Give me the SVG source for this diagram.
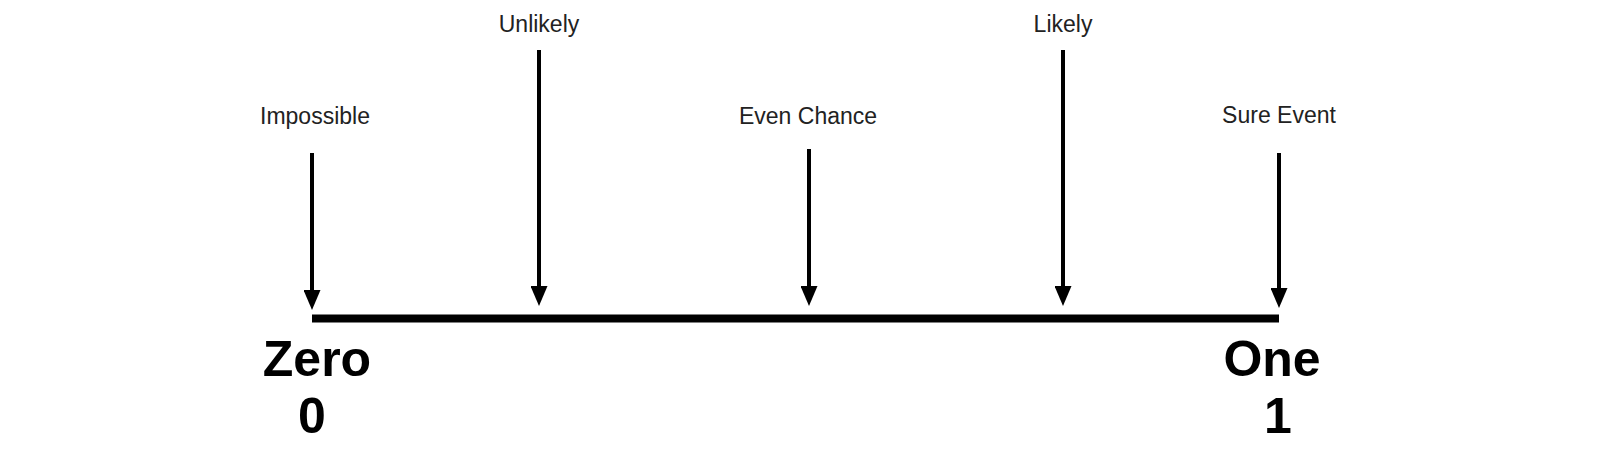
<svg xmlns="http://www.w3.org/2000/svg" width="1600" height="450" viewBox="0 0 1600 450">
<style>
.lbl{font-family:"Liberation Sans",Arial,sans-serif;font-size:23px;fill:#222;text-anchor:middle}
.big{font-family:"Liberation Sans",Arial,sans-serif;font-size:50px;font-weight:bold;fill:#000;text-anchor:middle}
.shaft{stroke:#000;stroke-width:4;fill:none}
</style>
<defs>
<marker id="ah" markerUnits="userSpaceOnUse" markerWidth="20" markerHeight="17" refX="8" refY="8.5" orient="auto">
<path d="M0,0 L20,8.5 L0,17 Z" fill="#000"/>
</marker>
</defs>
<rect width="1600" height="450" fill="#fff"/>
<g id="axis">
<line x1="312" y1="318.5" x2="1279" y2="318.5" stroke="#000" stroke-width="8"/>
</g>
<g id="connectors">
<line class="shaft" x1="312" y1="153" x2="312" y2="298" marker-end="url(#ah)"/>
<line class="shaft" x1="539" y1="50" x2="539" y2="294" marker-end="url(#ah)"/>
<line class="shaft" x1="809" y1="149" x2="809" y2="294" marker-end="url(#ah)"/>
<line class="shaft" x1="1063" y1="50" x2="1063" y2="294" marker-end="url(#ah)"/>
<line class="shaft" x1="1279" y1="153" x2="1279" y2="296" marker-end="url(#ah)"/>
</g>
<g id="impossible"><text class="lbl" x="315" y="124">Impossible</text></g>
<g id="unlikely"><text class="lbl" x="539" y="32">Unlikely</text></g>
<g id="even"><text class="lbl" x="808" y="124">Even Chance</text></g>
<g id="likely"><text class="lbl" x="1063" y="32">Likely</text></g>
<g id="sure"><text class="lbl" x="1279" y="123">Sure Event</text></g>
<g id="zero"><text class="big" x="317" y="376">Zero</text><text class="big" x="312" y="433">0</text></g>
<g id="one"><text class="big" x="1272" y="376">One</text><text class="big" x="1278" y="433">1</text></g>
</svg>
